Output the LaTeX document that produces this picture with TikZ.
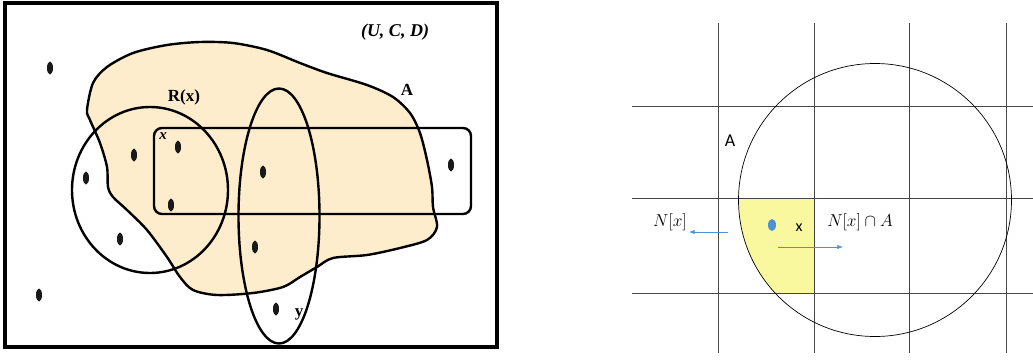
\documentclass[tikz,border=0pt]{standalone}
\usepackage{fontspec}
\setmainfont{Liberation Serif}
\newfontfamily\calibri{Carlito}
\usetikzlibrary{positioning,arrows.meta,shapes.geometric}

\definecolor{blobfill}{RGB}{254,237,205}
\definecolor{cellfill}{RGB}{249,248,158}
\definecolor{ptblue}{RGB}{79,145,210}
\definecolor{gridgray}{RGB}{70,70,70}

\begin{document}
\begin{tikzpicture}[x=1pt, y=-1pt,
  frame/.style={line width=3.5pt},
  region/.style={line width=2.4pt, fill=blobfill},
  set/.style={draw, line width=2.4pt, inner sep=0pt},
  dot/.style={ellipse, fill=black!90, minimum width=6pt, minimum height=13pt, inner sep=0pt},
  lbl/.style={font=\bfseries\fontsize{17}{17}\selectfont},
  gridline/.style={gridgray, line width=0.9pt},
  ptr/.style={-Latex, ptblue, line width=0.6pt}
]
\useasboundingbox (0,0) rectangle (1033,359);

% Left panel: universe
\draw[frame] (5,3) rectangle (497,347);

% Set A (blob)
\draw[region] plot[smooth cycle, tension=0.5] coordinates {
  (87,110) (93,83) (107,67) (133,53) (167,45) (200,42) (233,43) (267,50)
  (300,63) (327,73) (367,85) (393,97) (410,113) (420,133) (427,160)
  (432,187) (433,207) (437,227) (427,240) (400,248) (367,255) (333,258)
  (317,267) (300,277) (283,287) (253,293) (217,295) (193,290) (180,277)
  (167,257) (147,230) (127,210) (113,197) (108,187) (107,167) (100,143)
  (90,120)};

% Granules
\node[set, ellipse, minimum width=156pt, minimum height=166pt] (Rx) at (150,190) {};
\node[set, ellipse, minimum width=81pt, minimum height=255pt] (By) at (279,216) {};
\node[set, rectangle, rounded corners=8pt, minimum width=317pt, minimum height=86pt] (Bx) at (312.5,171) {};

% Objects
\foreach \px/\py [count=\i] in {50/68, 39/295, 86/178, 134/155, 178/147, 171/205,
    120/239, 263/172, 255/247, 276/309, 451/165}
  \node[dot] (o\i) at (\px,\py) {};

% Labels (left)
\node[font=\bfseries\itshape\fontsize{18}{18}\selectfont] (ucd) at (395,32) {(U, C, D)};
\node[lbl] (rxl) at (184,97) {R(x)};
\node[lbl] (al) at (407,90) {A};
\node[font=\bfseries\itshape\fontsize{15}{15}\selectfont] (xl) at (163,136) {x};
\node[lbl] (yl) at (299,314) {y};

% Right panel: shaded cell inside the neighbourhood
\begin{scope}
  \clip (875,200) circle (136.5pt);
  \fill[cellfill] (700,198) rectangle (814,293);
\end{scope}

% Grid
\foreach \gx in {718,814,909,1006}
  \draw[gridline] (\gx,23) -- (\gx,353);
\foreach \gy in {106,198,293}
  \draw[gridline] (632,\gy) -- (1033,\gy);

% Neighbourhood
\node[draw, circle, minimum size=273pt, inner sep=0pt, line width=0.7pt] (nbhd) at (875,200) {};

% Point and labels (right)
\node[ellipse, fill=ptblue, minimum width=8pt, minimum height=12pt, inner sep=0pt] (px) at (772,225) {};
\node[font=\calibri\fontsize{16}{16}\selectfont] (xr) at (799,228) {x};
\node[font=\calibri\fontsize{18}{18}\selectfont] (ar) at (730,141) {A};
\node[font=\fontsize{19}{19}\selectfont] (nx) at (670,222) {$N[x]$};
\node[font=\fontsize{19}{19}\selectfont] (nxa) at (860,222) {$N[x]\cap A$};

% Pointers
\coordinate (la) at (728,232);
\coordinate (lb) at (689,232);
\coordinate (ra) at (778,247);
\coordinate (rb) at (843,247);
\draw[ptr] (la) -- (lb);
\draw[ptr] (ra) -- (rb);

\end{tikzpicture}
\end{document}
